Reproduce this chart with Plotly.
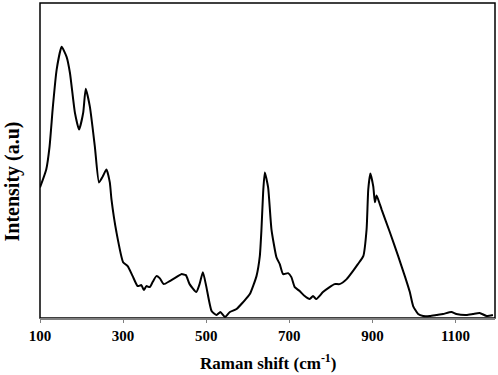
import plotly.graph_objects as go

raman_shift = [100, 115, 123, 131, 140, 152, 164, 172, 184, 194, 204, 210, 220, 232, 242, 251, 260, 268,
               272, 284, 300, 311, 323, 335, 344, 350, 356, 364, 371, 380, 388, 398, 412, 428, 440, 451,
               460, 476, 484, 492, 500, 513, 525, 534, 545, 557, 573, 589, 605, 621, 629, 633, 637, 641,
               649, 657, 669, 677, 685, 697, 705, 713, 725, 737, 749, 757, 765, 781, 797, 809, 821, 838,
               853, 865, 878, 886, 890, 895, 902, 906, 910, 918, 922, 942, 962, 978, 990, 998, 1010, 1022,
               1038, 1054, 1070, 1090, 1102, 1126, 1142, 1158, 1175, 1190]
intensity = [130, 148, 171, 211, 248, 271, 261, 245, 205, 188, 205, 229, 211, 171, 135, 141, 148, 135,
             118, 85, 55, 51, 41, 31, 32, 27, 31, 30, 35, 41, 39, 33, 36, 40, 43, 42,
             33, 25, 33, 45, 31, 6, 2, 5, 0, 5, 8, 15, 23, 41, 61, 88, 125, 145,
             130, 88, 60, 53, 43, 44, 40, 30, 26, 21, 18, 21, 18, 25, 30, 33, 33, 38,
             46, 53, 61, 88, 128, 144, 131, 115, 122, 113, 108, 85, 61, 41, 25, 11, 3, 1,
             1, 2, 3, 5, 3, 2, 3, 4, 1, 2]
tick_vals = [100, 300, 500, 700, 900, 1100]
tick_text = ["100", "300", "500", "700", "900", "1100"]
x_title = "<b>Raman shift (cm<sup>-1</sup>)</b>"
y_title = "<b>Intensity (a.u)</b>"

font_family = "Liberation Serif, Times New Roman, serif"

fig = go.Figure()
fig.add_trace(go.Scatter(x=raman_shift, y=intensity, mode="lines",
                         line=dict(color="black", width=2, shape="spline", smoothing=0.5),
                         showlegend=False, hoverinfo="skip"))

fig.add_shape(type="rect", xref="paper", yref="paper", x0=0, x1=1, y0=0, y1=1,
              line=dict(color="black", width=1.5), layer="below")

# plot area: x 40..495, y 3..318 in a 498x375 page
fig.add_annotation(text=x_title, xref="paper", yref="paper", x=(268 - 40) / 455, y=-(361.7 - 318) / 315,
                   xanchor="center", yanchor="middle", showarrow=False,
                   font=dict(family=font_family, size=17, color="black"))
fig.add_annotation(text=y_title, xref="paper", yref="paper", x=-(40 - 11.5) / 455, y=(318 - 182) / 315,
                   xanchor="center", yanchor="middle", showarrow=False, textangle=-90,
                   font=dict(family=font_family, size=20, color="black"))

fig.update_layout(
    width=498, height=375,
    margin=dict(l=40, r=3, t=3, b=57, autoexpand=False),
    paper_bgcolor="white", plot_bgcolor="white",
    font=dict(family=font_family, color="black"),
    xaxis=dict(range=[100, 1195], tickvals=tick_vals, ticktext=tick_text, automargin=False,
               showgrid=False, zeroline=False, showline=True, linecolor="#808080", linewidth=2,
               ticks="outside", ticklen=3, tickcolor="#808080", tickwidth=1,
               tickfont=dict(family=font_family, size=15, color="black", weight="bold")),
    yaxis=dict(range=[-1, 315], showticklabels=False, showgrid=False, zeroline=False,
               showline=False, ticks="", automargin=False),
)

fig.write_html("out.html", config={"displayModeBar": False},
               post_script="document.body.style.margin='0';document.body.style.overflow='hidden';")
